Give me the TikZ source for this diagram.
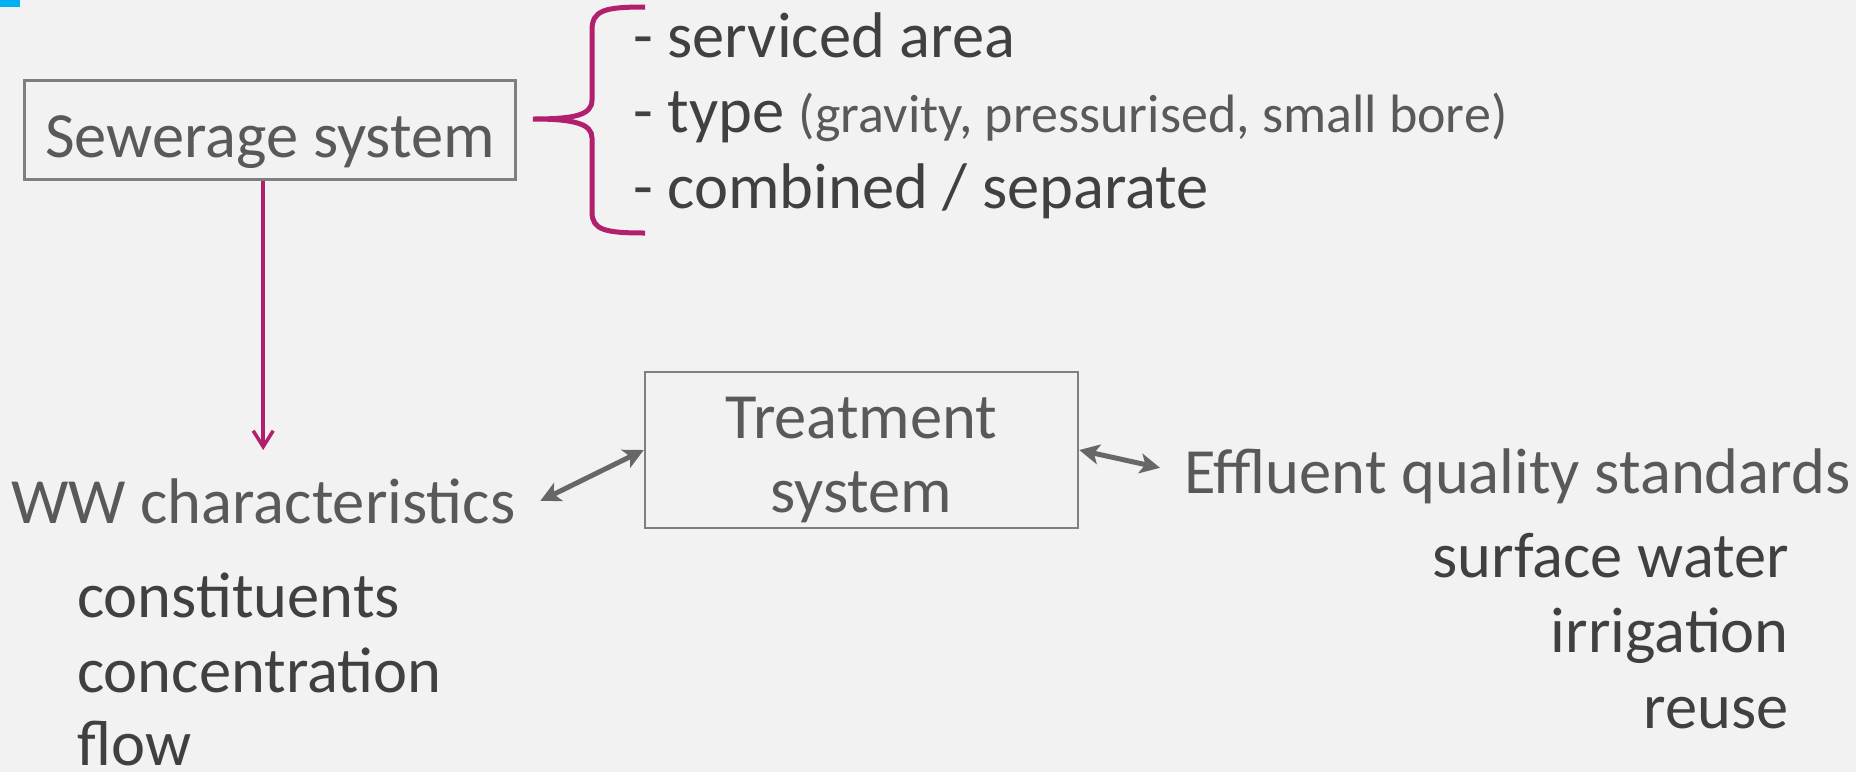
\documentclass[tikz,border=0pt]{standalone}
\usepackage{fontspec}
\setmainfont{Carlito}
\usetikzlibrary{arrows.meta}
\definecolor{bggray}{HTML}{F2F2F2}
\definecolor{boxline}{HTML}{7F7F7F}
\definecolor{softtext}{HTML}{595959}
\definecolor{darktext}{HTML}{404040}
\definecolor{arrowgray}{HTML}{676767}
\definecolor{plum}{HTML}{B21F6C}
\definecolor{skyblue}{HTML}{00B0F0}
\begin{document}
\begin{tikzpicture}[
  x=1pt, y=-1pt,
  big/.style={font=\fontsize{64.5}{77}\selectfont},
  box/.style={draw=boxline, line width=2.5pt, inner sep=0pt, text=softtext, big},
  head/.style={big, text=softtext, inner sep=0pt},
  item/.style={big, text=darktext, inner sep=0pt},
  twoway/.style={arrowgray, line width=5pt,
    {Stealth[length=20pt,width=20pt,inset=5pt]}-{Stealth[length=20pt,width=20pt,inset=5pt]}}]
  \useasboundingbox (0,0) rectangle (1856,772);
  \fill[bggray] (0,0) rectangle (1856,772);
  \fill[skyblue] (0,0) rectangle (20,7);
  \node[box, minimum width=491pt, minimum height=99pt, text height=60pt, text depth=5pt]
    (sewer) at (270,130) {Sewerage system};
  \draw[plum, line width=5pt]
    (645,7) .. controls (605,7) and (592,10) .. (592,30) -- (592,100)
    .. controls (592,115) and (575,119) .. (533,119)
    .. controls (575,119) and (592,124) .. (592,138) -- (592,212)
    .. controls (592,230) and (605,233) .. (645,233);
  \node[item, anchor=base west] (area) at (633,57) {- serviced area};
  \node[item, anchor=base west] (type) at (633,132)
    {- type {\fontsize{54}{64}\selectfont\color{softtext}(gravity, pressurised, small bore)}};
  \node[item, anchor=base west] (comb) at (633,208) {- combined / separate};
  \node[head, anchor=base west] (ww) at (11,523) {WW characteristics};
  \node[item, anchor=base west] (cons) at (77,617) {constituents};
  \node[item, anchor=base west] (conc) at (77,692) {concentration};
  \node[item, anchor=base west] (flow) at (77,765) {flow};
  \node[box, minimum width=433pt, minimum height=156pt] (trt) at (861.5,450) {};
  \node[head, anchor=base] (trt1) at (861.5,438) {Treatment};
  \node[head, anchor=base] (trt2) at (861.5,512) {system};
  \node[head, anchor=base west] (eff) at (1184,493) {Effluent quality standards};
  \node[item, anchor=base east] (surf) at (1789,577) {surface water};
  \node[item, anchor=base east] (irr) at (1789,652) {irrigation};
  \node[item, anchor=base east] (reuse) at (1789,728) {reuse};
  \draw[plum, line width=3.5pt, -{Straight Barb[length=16pt,width=20pt]}, shorten >=28pt]
    (sewer.south -| ww.north) -- (ww.north);
  \draw[twoway] ([xshift=25pt]ww.east) -- (trt.west);
  \draw[twoway] (trt.east) -- ([xshift=-24pt,yshift=8pt]eff.west);
\end{tikzpicture}
\end{document}
